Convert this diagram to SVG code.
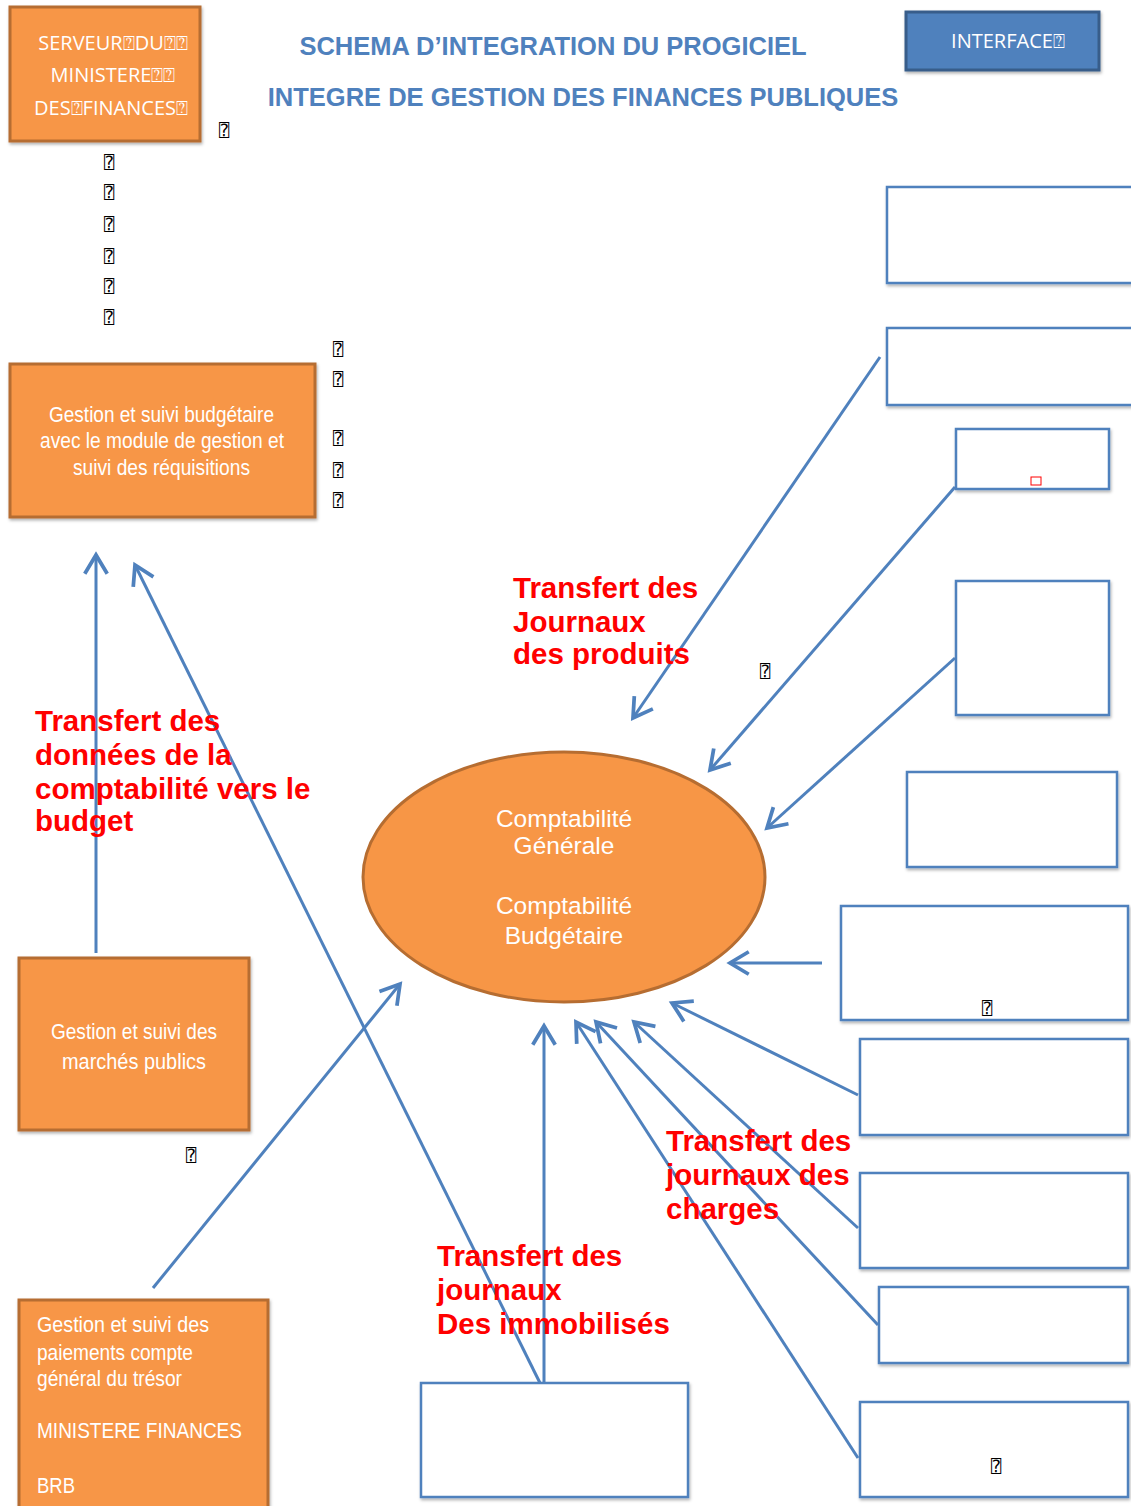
<svg xmlns="http://www.w3.org/2000/svg" width="1131" height="1506" viewBox="0 0 1131 1506">
<style>
.or{fill:#f79646;stroke:#b66d31;stroke-width:3}
.wb{fill:#fff;stroke:#4f81bd;stroke-width:2.5}
.wt{fill:#fff;font-family:"Liberation Sans",Arial,sans-serif;font-size:22.5px}
.cal{fill:#fff;font-family:"Open Sans","Liberation Sans",sans-serif;font-size:20px}
.el{fill:#fff;font-family:"Liberation Sans",Arial,sans-serif;font-size:24.5px;text-anchor:middle}
.ti{fill:#4f81bd;font-family:"Liberation Sans",Arial,sans-serif;font-size:25.5px;font-weight:bold;text-anchor:middle}
.rd{fill:#ff0000;font-family:"Liberation Sans",Arial,sans-serif;font-size:29.5px;font-weight:bold}
.tf{font-family:"DejaVu Sans Mono","DejaVu Sans",monospace;font-size:17px;fill:#000}
.cn line{stroke:#4f81bd;stroke-width:3;marker-end:url(#ah)}
</style>
<defs>
<marker id="ah" markerUnits="userSpaceOnUse" markerWidth="30" markerHeight="30" viewBox="-20 -12 24 24" refX="0" refY="0" orient="auto">
<path d="M-15,-9 L0,0 L-15,9" fill="none" stroke="#4f81bd" stroke-width="3"/>
</marker>
<filter id="sh" x="-5%" y="-5%" width="115%" height="120%">
<feDropShadow dx="1" dy="2" stdDeviation="1.5" flood-color="#000" flood-opacity="0.3"/>
</filter>
</defs>
<rect width="1131" height="1506" fill="#fff"/>

<g id="title">
<text class="ti" x="553" y="55">SCHEMA D’INTEGRATION DU PROGICIEL</text>
<text class="ti" x="583" y="106">INTEGRE DE GESTION DES FINANCES PUBLIQUES</text>
</g>

<g id="serveur">
<rect class="or" x="10" y="7" width="190" height="134" filter="url(#sh)"/>
<text class="cal" text-anchor="middle" x="113" y="50">SERVEUR⍰DU⍰⍰</text>
<text class="cal" text-anchor="middle" x="113" y="82">MINISTERE⍰⍰</text>
<text class="cal" text-anchor="middle" x="111" y="115">DES⍰FINANCES⍰</text>
</g>

<g id="interface">
<rect x="906" y="12" width="193" height="58" fill="#4f81bd" stroke="#385d8a" stroke-width="3" filter="url(#sh)"/>
<text class="cal" text-anchor="middle" x="1008" y="48" font-size="21">INTERFACE⍰</text>
</g>

<g id="tofu">
<text class="tf" x="219" y="136">⍰</text>
<text class="tf" x="104" y="168">⍰</text>
<text class="tf" x="104" y="198">⍰</text>
<text class="tf" x="104" y="230">⍰</text>
<text class="tf" x="104" y="262">⍰</text>
<text class="tf" x="104" y="292">⍰</text>
<text class="tf" x="104" y="323">⍰</text>
<text class="tf" x="333" y="355">⍰</text>
<text class="tf" x="333" y="385">⍰</text>
<text class="tf" x="333" y="444">⍰</text>
<text class="tf" x="333" y="476">⍰</text>
<text class="tf" x="333" y="506">⍰</text>
<text class="tf" x="760" y="677">⍰</text>
<text class="tf" x="186" y="1161">⍰</text>
</g>

<g id="budget">
<rect class="or" x="10" y="364" width="305" height="153" filter="url(#sh)"/>
<text class="wt" x="49" y="422" textLength="225" lengthAdjust="spacingAndGlyphs">Gestion et suivi budgétaire</text>
<text class="wt" x="40" y="448" textLength="244" lengthAdjust="spacingAndGlyphs">avec le module de gestion et</text>
<text class="wt" x="73" y="475" textLength="177" lengthAdjust="spacingAndGlyphs">suivi des réquisitions</text>
</g>

<g id="marches">
<rect class="or" x="19" y="958" width="230" height="172" filter="url(#sh)"/>
<text class="wt" x="51" y="1039" textLength="166" lengthAdjust="spacingAndGlyphs">Gestion et suivi des</text>
<text class="wt" x="62" y="1069" textLength="144" lengthAdjust="spacingAndGlyphs">marchés  publics</text>
</g>

<g id="paiements">
<rect class="or" x="19" y="1300" width="249" height="215" filter="url(#sh)"/>
<text class="wt" x="37" y="1332" textLength="172" lengthAdjust="spacingAndGlyphs">Gestion et  suivi des</text>
<text class="wt" x="37" y="1360" textLength="156" lengthAdjust="spacingAndGlyphs">paiements compte</text>
<text class="wt" x="37" y="1386" textLength="145" lengthAdjust="spacingAndGlyphs">général du trésor</text>
<text class="wt" x="37" y="1438" textLength="205" lengthAdjust="spacingAndGlyphs">MINISTERE FINANCES</text>
<text class="wt" x="37" y="1493" textLength="38" lengthAdjust="spacingAndGlyphs">BRB</text>
</g>

<g id="comptabilite">
<ellipse cx="564" cy="877" rx="201" ry="125" fill="#f79646" stroke="#b66d31" stroke-width="3"/>
<text class="el" x="564" y="827">Comptabilité</text>
<text class="el" x="564" y="854">Générale</text>
<text class="el" x="564" y="914">Comptabilité</text>
<text class="el" x="564" y="944">Budgétaire</text>
</g>

<g id="box1"><rect class="wb" x="887" y="187" width="250" height="96" filter="url(#sh)"/></g>
<g id="box2"><rect class="wb" x="887" y="328" width="250" height="77" filter="url(#sh)"/></g>
<g id="box3"><rect class="wb" x="956" y="429" width="153" height="60" filter="url(#sh)"/>
<rect x="1031" y="477" width="10" height="8" fill="none" stroke="#ff0000" stroke-width="1"/></g>
<g id="box4"><rect class="wb" x="956" y="581" width="153" height="134" filter="url(#sh)"/></g>
<g id="box5"><rect class="wb" x="907" y="772" width="210" height="95" filter="url(#sh)"/></g>
<g id="box6"><rect class="wb" x="841" y="906" width="287" height="114" filter="url(#sh)"/>
<text class="tf" x="982" y="1014">⍰</text></g>
<g id="box7"><rect class="wb" x="860" y="1039" width="268" height="96" filter="url(#sh)"/></g>
<g id="box8"><rect class="wb" x="860" y="1173" width="268" height="95" filter="url(#sh)"/></g>
<g id="box9"><rect class="wb" x="879" y="1287" width="249" height="76" filter="url(#sh)"/></g>
<g id="box10"><rect class="wb" x="860" y="1402" width="268" height="95" filter="url(#sh)"/>
<text class="tf" x="991" y="1472">⍰</text></g>
<g id="box11"><rect class="wb" x="421" y="1383" width="267" height="114" filter="url(#sh)"/></g>

<g id="connectors" class="cn">
<line x1="880" y1="357" x2="633" y2="718"/>
<line x1="955" y1="487" x2="710" y2="770"/>
<line x1="955" y1="658" x2="767" y2="828"/>
<line x1="822" y1="963" x2="730" y2="963"/>
<line x1="858" y1="1095" x2="672" y2="1003"/>
<line x1="858" y1="1228" x2="634" y2="1022"/>
<line x1="878" y1="1325" x2="596" y2="1022"/>
<line x1="858" y1="1458" x2="576" y2="1022"/>
<line x1="544" y1="1383" x2="544" y2="1026"/>
<line x1="540" y1="1383" x2="135" y2="565"/>
<line x1="96" y1="953" x2="96" y2="555"/>
<line x1="153" y1="1288" x2="400" y2="984"/>
</g>

<g id="labels">
<text class="rd" x="513" y="598">Transfert des</text>
<text class="rd" x="513" y="632">Journaux</text>
<text class="rd" x="513" y="664">des produits</text>
<text class="rd" x="35" y="731">Transfert des</text>
<text class="rd" x="35" y="765">données de la</text>
<text class="rd" x="35" y="799">comptabilité vers le</text>
<text class="rd" x="35" y="831">budget</text>
<text class="rd" x="666" y="1151">Transfert des</text>
<text class="rd" x="666" y="1185">journaux des</text>
<text class="rd" x="666" y="1219">charges</text>
<text class="rd" x="437" y="1266">Transfert des</text>
<text class="rd" x="437" y="1300">journaux</text>
<text class="rd" x="437" y="1334">Des immobilisés</text>
</g>
</svg>
